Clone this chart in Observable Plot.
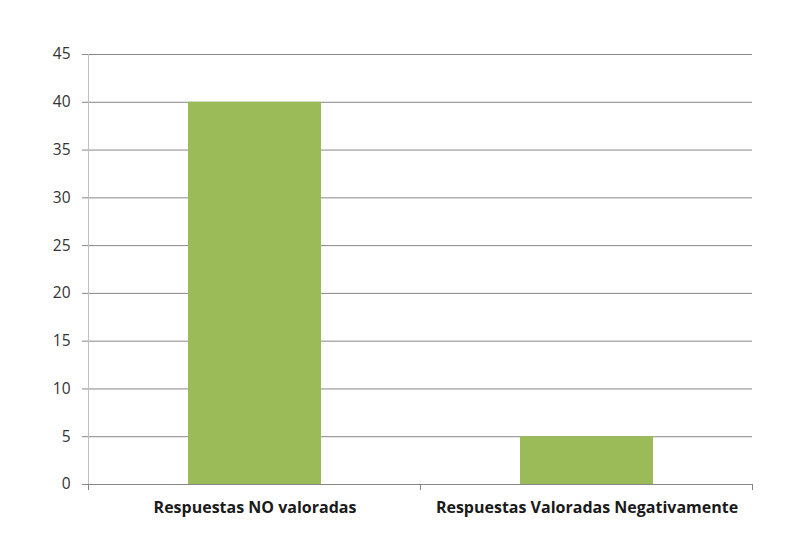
<!DOCTYPE html>
<html>
<head>
<meta charset="utf-8">
<script src="https://cdn.jsdelivr.net/npm/d3@7"></script>
<script src="https://cdn.jsdelivr.net/npm/@observablehq/plot@0.6"></script>
<style>
  body { margin: 0; background: #fff; }
  #chart svg { display: block; }
</style>
</head>
<body>
<div id="chart"></div>
<script>
const categories = ["Respuestas NO valoradas", "Respuestas Valoradas Negativamente"];
const values = [40, 5];
const yTicks = [0, 5, 10, 15, 20, 25, 30, 35, 40, 45];

const data = categories.map((c, i) => ({category: c, value: values[i]}));

const chart = Plot.plot({
  width: 808,
  height: 535,
  marginLeft: 88,
  marginRight: 56,
  marginTop: 54,
  marginBottom: 51,
  style: {fontFamily: "'Open Sans', 'Liberation Sans', sans-serif", background: "#fff"},
  x: {domain: categories, paddingInner: 0.6, paddingOuter: 0.3, label: null},
  y: {domain: [0, 45], label: null},
  marks: [
    Plot.axisY({ticks: yTicks, tickSize: 6, tickPadding: 12, fontSize: 15.5, fill: "#333333", stroke: "#878787", label: null}),
    Plot.gridY({ticks: yTicks, stroke: "#878787", strokeOpacity: 1}),
    Plot.barY(data, {x: "category", y: "value", fill: "#9BBB59"}),
    Plot.ruleY([0], {stroke: "#878787"}),
    Plot.axisX({tickSize: 0, tickPadding: 17, fontSize: 16, fontWeight: "bold", fill: "#1a1a1a", label: null})
  ]
});

document.getElementById("chart").appendChild(chart);

// Category boundary ticks and the light y-axis line, positioned from the scales
const xs = chart.scale("x");
const ys = chart.scale("y");
const svg = d3.select(chart);
const gap = xs.step - xs.bandwidth;
const bounds = categories.map(c => xs.apply(c) - gap / 2);
bounds.push(xs.apply(categories[categories.length - 1]) + xs.bandwidth + gap / 2);
const y0 = ys.apply(0);
const yTop = ys.apply(45);
svg.append("g")
  .selectAll("line")
  .data(bounds)
  .join("line")
  .attr("x1", d => d).attr("x2", d => d)
  .attr("y1", y0).attr("y2", y0 + 6)
  .attr("stroke", "#878787");
svg.append("line")
  .attr("x1", bounds[0]).attr("x2", bounds[0])
  .attr("y1", yTop).attr("y2", y0)
  .attr("stroke", "#bfbfbf");
</script>
</body>
</html>
